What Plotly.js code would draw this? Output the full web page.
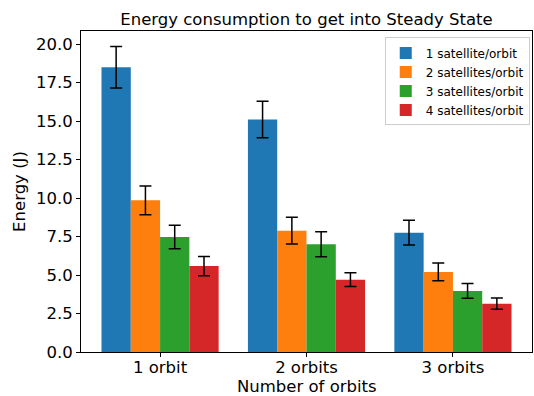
<!DOCTYPE html>
<html>
<head>
<meta charset="utf-8">
<script src="https://cdn.plot.ly/plotly-3.0.1.min.js"></script>
<style>html,body{margin:0;padding:0;background:#fff;}#chart{width:534px;height:396px;}</style>
</head>
<body>
<div id="chart"></div>
<script>
const categories = ["1 orbit", "2 orbits", "3 orbits"];
const seriesNames = ["1 satellite/orbit", "2 satellites/orbit", "3 satellites/orbit", "4 satellites/orbit"];
const sat1 = [18.5, 15.1, 7.75];
const sat2 = [9.85, 7.88, 5.2];
const sat3 = [7.47, 7.0, 3.97];
const sat4 = [5.58, 4.7, 3.14];
const err1 = [1.35, 1.18, 0.8];
const err2 = [0.93, 0.87, 0.58];
const err3 = [0.77, 0.81, 0.48];
const err4 = [0.62, 0.44, 0.37];
const colors = ["#1f77b4", "#ff7f0e", "#2ca02c", "#d62728"];

const values = [sat1, sat2, sat3, sat4];
const errs = [err1, err2, err3, err4];
const xIdx = categories.map((c, i) => i);

const font = "DejaVu Sans, sans-serif";
const traces = values.map((v, i) => ({
  type: "bar",
  name: seriesNames[i],
  x: xIdx,
  y: v,
  marker: {color: colors[i], line: {width: 0}},
  error_y: {type: "data", array: errs[i], visible: true, color: "#000", thickness: 1.5, width: 6}
}));

const layout = {
  width: 534, height: 396,
  margin: {l: 81, r: 2, t: 31, b: 44},
  paper_bgcolor: "#fff", plot_bgcolor: "#fff",
  barmode: "group", bargap: 0.2, bargroupgap: 0,
  font: {family: font, color: "#000", size: 16.5},
  title: {text: "Energy consumption to get into Steady State", font: {family: font, size: 16.5, color: "#000"},
          x: 0.5, xref: "paper", y: 1, yref: "paper", yanchor: "bottom", pad: {b: 6}},
  xaxis: {
    range: [-0.54, 2.54], tickvals: xIdx, ticktext: categories,
    ticks: "outside", ticklen: 4, tickwidth: 1, tickcolor: "#000",
    showline: true, linecolor: "#000", linewidth: 1, mirror: true,
    showgrid: false, zeroline: false,
    tickfont: {size: 16.5}, ticklabelstandoff: -4,
    title: {text: ""}
  },
  yaxis: {
    range: [0, 20.85], dtick: 2.5, tick0: 0, tickformat: ".1f",
    ticks: "outside", ticklen: 4, tickwidth: 1, tickcolor: "#000",
    showline: true, linecolor: "#000", linewidth: 1, mirror: true,
    showgrid: false, zeroline: false,
    tickfont: {size: 16.5},
    title: {text: "Energy (J)", font: {size: 16.5}, standoff: 6}
  },
  annotations: [{
    text: "Number of orbits", xref: "paper", yref: "paper", x: 0.5, y: -0.106,
    xanchor: "center", yanchor: "middle", showarrow: false, font: {size: 16.5, family: font, color: "#000"}
  }],
  legend: {
    x: 0.995, xanchor: "right", y: 0.98, yanchor: "top",
    bgcolor: "rgba(255,255,255,0.8)", bordercolor: "#cccccc", borderwidth: 1,
    font: {size: 12, family: font}, tracegroupgap: 0
  },
  showlegend: true
};

Plotly.newPlot("chart", traces, layout, {displayModeBar: false, staticPlot: true});
</script>
</body>
</html>
